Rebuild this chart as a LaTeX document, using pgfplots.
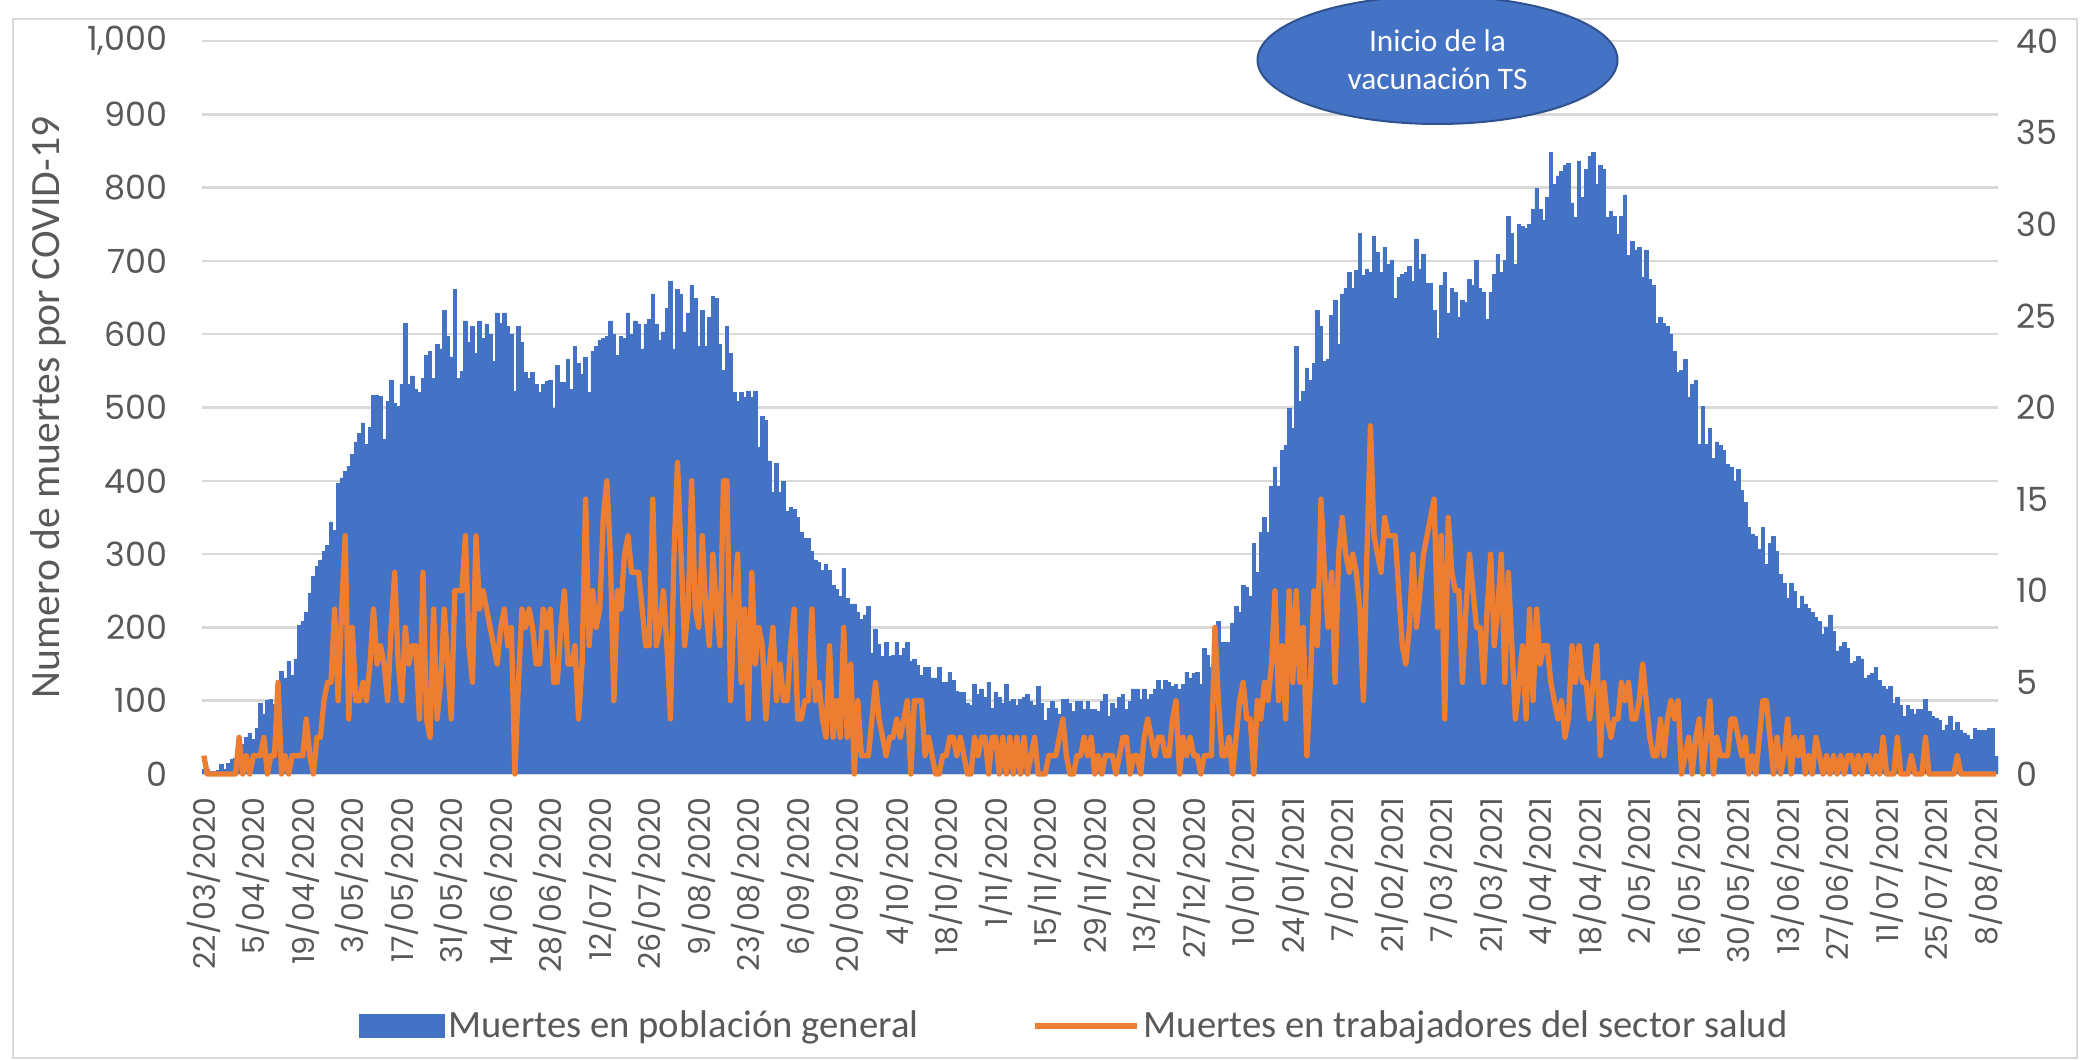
\documentclass[border=0pt]{standalone}
\usepackage{fontspec}
\setmainfont{Carlito}
\newfontfamily\tickfont{Poppins}
\usepackage{pgfplots}
\pgfplotsset{compat=1.18}
\usepackage{pgfplotstable}
\definecolor{cBlue}{HTML}{4472C4}
\definecolor{cOrange}{HTML}{ED7D31}
\definecolor{cGrid}{HTML}{D9D9D9}
\definecolor{cText}{HTML}{595959}
\definecolor{cEdge}{HTML}{2F528F}

% Muertes en poblacion general (daily, from 22/03/2020)
\pgfplotstableread[row sep=\\]{b\\%
7\\6\\3\\3\\5\\13\\6\\14\\20\\22\\%
28\\40\\50\\56\\47\\62\\96\\82\\100\\102\\%
95\\125\\140\\131\\154\\135\\157\\203\\208\\220\\%
246\\270\\283\\292\\304\\312\\344\\332\\396\\404\\%
413\\420\\436\\453\\465\\479\\450\\473\\517\\517\\%
515\\456\\508\\537\\505\\502\\531\\615\\531\\543\\%
525\\520\\540\\571\\577\\540\\586\\580\\632\\597\\%
569\\661\\540\\549\\618\\589\\611\\574\\618\\594\\%
614\\600\\563\\629\\%
615\\629\\611\\600\\522\\611\\589\\548\\540\\548\\%
531\\520\\531\\535\\537\\499\\557\\534\\534\\566\\%
525\\583\\560\\545\\569\\520\\577\\583\\592\\594\\%
597\\618\\600\\571\\597\\594\\629\\600\\618\\614\\%
580\\614\\620\\655\\614\\592\\603\\635\\672\\580\\%
661\\655\\603\\629\\666\\649\\583\\632\\583\\623\\%
652\\649\\586\\551\\611\\574\\520\\508\\520\\514\\%
522\\514\\522\\445\\488\\482\\427\\384\\424\\384\\%
399\\358\\364\\361\\350\\%
329\\321\\321\\304\\292\\289\\278\\286\\278\\257\\%
252\\243\\281\\240\\232\\232\\220\\211\\217\\229\\%
165\\197\\177\\160\\180\\160\\162\\180\\162\\171\\%
180\\154\\157\\148\\134\\145\\145\\131\\131\\145\\%
125\\125\\139\\128\\113\\111\\111\\96\\93\\122\\%
108\\116\\105\\125\\90\\111\\105\\96\\122\\99\\%
102\\93\\102\\105\\108\\99\\93\\119\\96\\73\\%
90\\99\\90\\82\\102\\102\\96\\85\\99\\99\\%
88\\99\\88\\88\\85\\%
99\\108\\79\\96\\90\\105\\108\\88\\99\\116\\%
116\\102\\116\\102\\108\\116\\128\\116\\128\\125\\%
119\\122\\116\\122\\139\\131\\137\\139\\122\\171\\%
162\\145\\197\\208\\180\\180\\180\\206\\229\\220\\%
257\\255\\243\\315\\275\\329\\350\\329\\393\\419\\%
393\\442\\448\\499\\471\\583\\508\\522\\554\\537\\%
560\\632\\611\\563\\566\\626\\646\\586\\655\\663\\%
684\\663\\687\\738\\680\\689\\684\\733\\712\\684\\%
718\\695\\%
701\\649\\678\\681\\684\\692\\672\\730\\689\\709\\%
669\\669\\632\\594\\666\\684\\629\\663\\657\\623\\%
646\\643\\675\\666\\701\\663\\657\\620\\657\\681\\%
709\\684\\701\\761\\738\\695\\750\\747\\744\\750\\%
770\\799\\770\\756\\787\\848\\804\\816\\822\\830\\%
833\\779\\759\\836\\787\\825\\842\\848\\804\\830\\%
825\\759\\767\\761\\736\\761\\790\\707\\727\\715\\%
718\\678\\715\\675\\666\\615\\623\\615\\611\\600\\%
577\\548\\551\\566\\%
514\\531\\537\\450\\502\\450\\471\\430\\453\\448\\%
442\\422\\419\\399\\416\\387\\370\\336\\327\\324\\%
306\\336\\286\\315\\324\\304\\272\\260\\240\\260\\%
249\\226\\243\\232\\226\\220\\214\\208\\191\\200\\%
217\\194\\168\\174\\180\\171\\151\\154\\160\\157\\%
131\\134\\137\\145\\128\\119\\116\\119\\96\\105\\%
93\\79\\93\\88\\82\\88\\88\\102\\85\\79\\%
76\\73\\59\\67\\79\\59\\70\\59\\56\\53\\%
47\\62\\59\\59\\59\\62\\62\\24\\%
}\bluedata

% Muertes en trabajadores del sector salud (daily)
\pgfplotstableread[row sep=\\]{o\\%
1\\0\\0\\0\\0\\0\\0\\0\\0\\0\\%
2\\0\\1\\0\\1\\1\\1\\2\\0\\1\\%
1\\5\\0\\1\\0\\1\\1\\1\\1\\3\\%
1\\0\\2\\2\\4\\5\\5\\9\\4\\9\\%
13\\3\\8\\4\\4\\5\\4\\6\\9\\6\\%
7\\6\\4\\8\\11\\6\\4\\8\\6\\7\\%
7\\3\\11\\3\\2\\9\\3\\5\\9\\6\\%
3\\10\\10\\10\\13\\7\\5\\13\\9\\10\\%
9\\8\\7\\6\\%
8\\9\\7\\8\\0\\5\\9\\8\\9\\8\\%
6\\6\\9\\8\\9\\5\\5\\8\\10\\6\\%
6\\7\\3\\6\\15\\7\\10\\8\\9\\14\\%
16\\12\\4\\10\\9\\12\\13\\11\\11\\11\\%
9\\7\\7\\15\\7\\8\\10\\7\\3\\12\\%
17\\12\\7\\9\\16\\9\\8\\13\\9\\7\\%
12\\9\\7\\16\\16\\4\\9\\12\\5\\9\\%
3\\11\\6\\8\\7\\3\\6\\8\\4\\6\\%
4\\4\\7\\9\\3\\%
3\\4\\4\\9\\4\\5\\3\\2\\7\\2\\%
4\\2\\8\\2\\6\\0\\4\\1\\1\\1\\%
3\\5\\3\\2\\1\\2\\2\\3\\2\\3\\%
4\\0\\4\\4\\4\\1\\2\\1\\0\\0\\%
1\\1\\2\\2\\1\\2\\1\\0\\0\\2\\%
1\\2\\2\\0\\2\\2\\0\\2\\0\\2\\%
0\\2\\0\\2\\0\\1\\2\\0\\0\\0\\%
1\\1\\1\\2\\3\\1\\0\\0\\1\\1\\%
2\\1\\2\\0\\1\\%
0\\1\\1\\1\\0\\1\\2\\2\\0\\1\\%
1\\0\\2\\3\\2\\1\\2\\2\\1\\1\\%
3\\4\\0\\2\\1\\2\\1\\1\\0\\1\\%
1\\1\\8\\4\\1\\1\\2\\0\\2\\4\\%
5\\3\\3\\0\\4\\3\\5\\4\\6\\10\\%
4\\7\\3\\10\\5\\10\\5\\8\\1\\5\\%
10\\7\\15\\11\\8\\11\\5\\12\\14\\12\\%
11\\12\\11\\9\\4\\12\\19\\13\\12\\11\\%
14\\13\\%
13\\13\\10\\7\\6\\8\\12\\8\\10\\12\\%
13\\14\\15\\8\\13\\3\\14\\11\\10\\10\\%
5\\9\\12\\10\\8\\8\\5\\9\\12\\7\\%
9\\12\\5\\11\\7\\3\\5\\7\\3\\9\\%
4\\9\\6\\7\\7\\5\\4\\3\\4\\2\\%
3\\7\\5\\7\\5\\5\\3\\5\\7\\1\\%
5\\3\\2\\3\\3\\5\\4\\5\\3\\3\\%
4\\6\\4\\2\\1\\1\\3\\1\\3\\4\\%
3\\4\\0\\1\\%
2\\0\\2\\3\\0\\2\\4\\0\\2\\1\\%
1\\1\\3\\3\\2\\1\\2\\0\\1\\0\\%
2\\4\\4\\2\\0\\2\\0\\1\\3\\0\\%
2\\1\\2\\0\\1\\0\\2\\1\\0\\1\\%
0\\1\\0\\1\\0\\1\\1\\0\\1\\0\\%
1\\1\\0\\1\\0\\2\\0\\0\\0\\2\\%
0\\0\\0\\1\\0\\0\\0\\2\\0\\0\\%
0\\0\\0\\0\\0\\0\\1\\0\\0\\0\\%
0\\0\\0\\0\\0\\0\\0\\0\\%
}\orangedata

\pgfplotsset{
  common/.style={
    scale only axis, width=538.8pt, height=219.9pt,
    at={(60.6pt,85.8pt)}, anchor=south west,
    xmin=-0.5, xmax=507.5,
    major tick length=0pt,
    axis line style={draw=none},
    /pgf/number format/assume math mode=true,
    /pgf/number format/1000 sep={,},
  },
}
\newcommand\tickfs{\tickfont\fontsize{10}{12}\selectfont}
\newcommand\datefs{\tickfont\fontsize{9}{10}\selectfont}

\begin{document}
\begin{tikzpicture}
\path[use as bounding box] (0,0) rectangle (626.7pt,318pt);
\draw[cGrid, line width=0.8pt] (3.9pt,0.6pt) rectangle (623.1pt,312.3pt);

\begin{axis}[common,
  axis x line*=bottom, axis y line*=left,
  ymin=0, ymax=1000, ytick={0,100,...,1000},
  ymajorgrids, grid style={cGrid, line width=0.75pt},
  xtick={0,14,...,504},
  xticklabels={22/03/2020,5/04/2020,19/04/2020,3/05/2020,17/05/2020,31/05/2020,14/06/2020,28/06/2020,12/07/2020,26/07/2020,9/08/2020,23/08/2020,6/09/2020,20/09/2020,4/10/2020,18/10/2020,1/11/2020,15/11/2020,29/11/2020,13/12/2020,27/12/2020,10/01/2021,24/01/2021,7/02/2021,21/02/2021,7/03/2021,21/03/2021,4/04/2021,18/04/2021,2/05/2021,16/05/2021,30/05/2021,13/06/2021,27/06/2021,11/07/2021,25/07/2021,8/08/2021},
  xticklabel style={yshift=-6.9pt, rotate=90, anchor=east, inner sep=0pt, font=\datefs, text=cText},
  yticklabel style={xshift=-10.2pt, anchor=east, inner sep=0pt, font=\tickfs, text=cText},
  ylabel={Numero de muertes por COVID-19},
  ylabel style={at={(axis description cs:-0.0857,0.5)}, anchor=center, font=\fontsize{12.5}{14}\selectfont, text=cText},
]
\addplot[ybar, bar width=1, fill=cBlue, draw=cBlue, line width=0.2pt] table[x expr=\coordindex, y=b] {\bluedata};
\end{axis}

\begin{axis}[common,
  axis x line=none, axis y line*=right,
  ymin=0, ymax=40, ytick={0,5,...,40},
  yticklabel style={xshift=5.4pt, anchor=west, inner sep=0pt, font=\tickfs, text=cText},
  clip=false,
  legend columns=2,
  legend style={at={(0.0872,-0.344)}, anchor=west, draw=none, fill=none, inner sep=0pt,
    nodes={inner sep=1.2pt},
    font=\fontsize{11.6}{13.5}\selectfont, text=cText,
    /tikz/every even column/.append style={column sep=33pt}},
]
\addlegendimage{legend image code/.code={\fill[cBlue] (0pt,-3.3pt) rectangle (25.2pt,3.3pt);}}
\addlegendentry{Muertes en población general}
\addplot[cOrange, line width=1.6pt, line join=round,
  legend image code/.code={\draw[cOrange, line width=1.6pt] (0pt,0pt) -- (30.6pt,0pt);}]
  table[x expr=\coordindex, y=o] {\orangedata};
\addlegendentry{Muertes en trabajadores del sector salud}
\end{axis}

\draw[fill=cBlue, draw=cEdge, line width=0.6pt] (431.25pt,300pt) ellipse [x radius=54pt, y radius=19.2pt];
\node[text=white, align=center, font=\fontsize{9.4}{11.4}\selectfont] at (431.25pt,300.2pt) {Inicio de la\\vacunación TS};
\end{tikzpicture}
\end{document}
